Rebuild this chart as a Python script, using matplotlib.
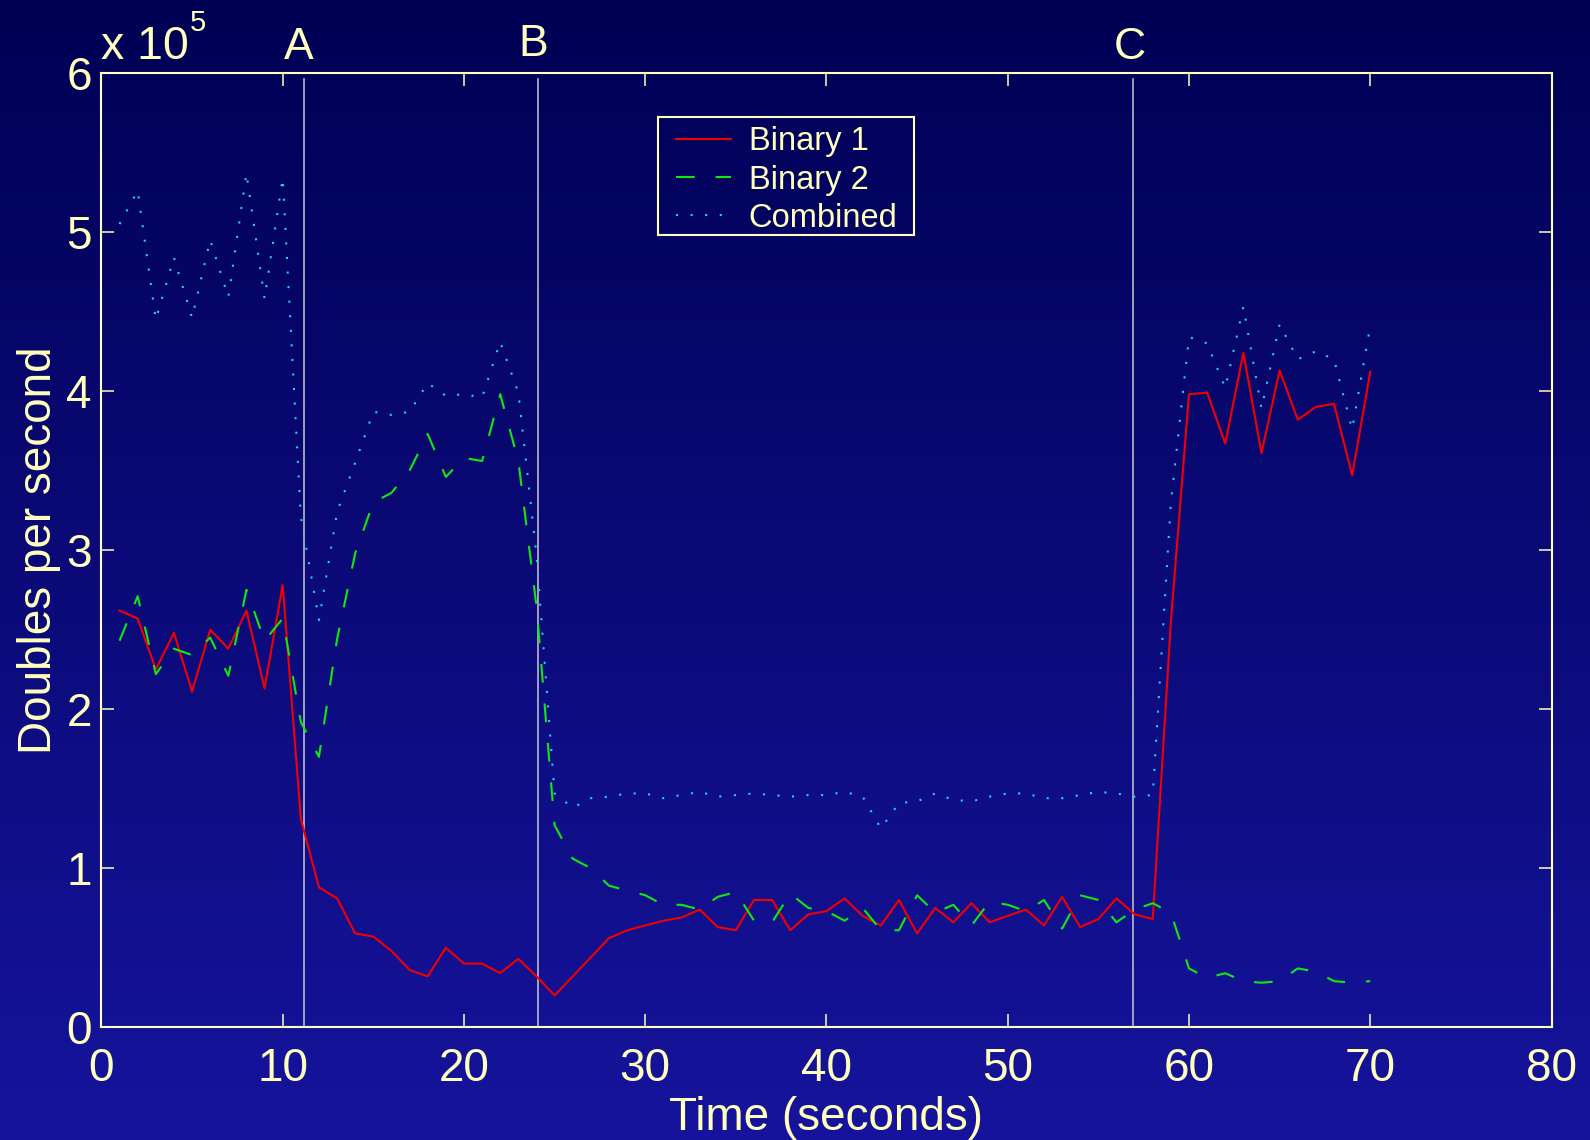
import numpy as np
import matplotlib
matplotlib.use("Agg")
import matplotlib.pyplot as plt
import matplotlib.patches as mpatches
import matplotlib.transforms as mtransforms

# Throughput samples, one per second (values in units of 1e5 doubles/s)
time_s = list(range(1, 71))

binary_1 = [
    2.62, 2.57, 2.25, 2.48, 2.11, 2.50, 2.38, 2.62, 2.13, 2.78,
    1.31, 0.88, 0.81, 0.59, 0.57, 0.48, 0.36, 0.32, 0.50, 0.40,
    0.40, 0.34, 0.43, 0.32, 0.20, 0.32, 0.44, 0.56, 0.61, 0.64,
    0.67, 0.69, 0.74, 0.63, 0.61, 0.80, 0.80, 0.61, 0.71, 0.73,
    0.81, 0.70, 0.64, 0.80, 0.59, 0.75, 0.66, 0.78, 0.66, 0.70,
    0.74, 0.64, 0.82, 0.63, 0.68, 0.81, 0.71, 0.68, 2.55, 3.98,
    3.99, 3.67, 4.24, 3.61, 4.13, 3.82, 3.90, 3.92, 3.47, 4.12,
]

binary_2 = [
    2.43, 2.71, 2.22, 2.38, 2.34, 2.45, 2.21, 2.75, 2.43, 2.57,
    1.92, 1.70, 2.44, 2.98, 3.30, 3.36, 3.50, 3.73, 3.46, 3.58,
    3.56, 3.98, 3.56, 2.65, 1.27, 1.06, 1.00, 0.89, 0.86, 0.83,
    0.77, 0.77, 0.74, 0.82, 0.85, 0.67, 0.66, 0.84, 0.75, 0.73,
    0.67, 0.75, 0.61, 0.61, 0.83, 0.72, 0.77, 0.64, 0.79, 0.77,
    0.73, 0.80, 0.62, 0.83, 0.80, 0.66, 0.74, 0.78, 0.72, 0.37,
    0.31, 0.34, 0.29, 0.28, 0.29, 0.37, 0.35, 0.29, 0.28, 0.29,
]

combined = [
    5.05, 5.26, 4.45, 4.84, 4.46, 4.95, 4.59, 5.37, 4.58, 5.34,
    3.21, 2.56, 3.24, 3.55, 3.87, 3.85, 3.87, 4.05, 3.97, 3.98,
    3.96, 4.31, 3.99, 2.97, 1.47, 1.38, 1.44, 1.45, 1.47, 1.47,
    1.44, 1.46, 1.48, 1.45, 1.46, 1.47, 1.46, 1.45, 1.46, 1.46,
    1.48, 1.45, 1.25, 1.41, 1.42, 1.47, 1.43, 1.42, 1.45, 1.47,
    1.47, 1.44, 1.44, 1.46, 1.48, 1.47, 1.45, 1.46, 3.30, 4.34,
    4.30, 4.02, 4.53, 3.89, 4.42, 4.20, 4.25, 4.20, 3.76, 4.41,
]

# Event markers
event_times = [11.15, 24.1, 56.9]
event_labels = ['A', 'B', 'C']

x_ticks = list(range(0, 81, 10))
y_ticks = list(range(0, 7))

PALE = '#FFFFBE'
FONT = 'Liberation Sans'
plt.rcParams['font.family'] = [FONT, 'DejaVu Sans']

fig = plt.figure(figsize=(15.9, 11.4), dpi=100)

# Vertical background gradient (dark navy at top -> blue at bottom)
bg = fig.add_axes([0, 0, 1, 1], zorder=0)
top_rgb = np.array([0, 0, 84]) / 255.0
bot_rgb = np.array([22, 20, 156]) / 255.0
f = np.linspace(0, 1, 512)[:, None]
grad = top_rgb + (bot_rgb - top_rgb) * f
bg.imshow(grad[:, None, :], aspect='auto', extent=[0, 1, 0, 1])
bg.axis('off')

ax = fig.add_axes([0.0638, 0.0989, 0.9120, 0.8371], zorder=1)
ax.set_facecolor('none')

ax.plot(time_s, binary_1, color='#F00000', lw=1.5, label='Binary 1')
ax.plot(time_s, binary_2, color='#10E810', lw=1.5, linestyle=(0, (9, 10)),
        label='Binary 2')
ax.plot(time_s, combined, color='#20D0F4', lw=1.5, linestyle=(0, (1, 6)),
        dash_capstyle='butt', label='Combined')

for t in event_times:
    ax.plot([t, t], [0, 5.96], color='#C8C8D0', lw=1.1, zorder=1)

ax.set_xlim(0, 80)
ax.set_ylim(0, 6)
ax.set_xticks(x_ticks)
ax.set_yticks(y_ticks)

for sp in ax.spines.values():
    sp.set_color(PALE)
    sp.set_linewidth(1.5)

ax.tick_params(direction='in', length=9.5, width=1.1, color=PALE,
               labelcolor=PALE, labelsize=33, top=True, right=True)
ax.tick_params(axis='x', pad=14)
ax.tick_params(axis='y', pad=7)

ax.set_xlabel('Time (seconds)', fontsize=33, color=PALE, labelpad=4)
ax.set_ylabel('Doubles per second', fontsize=33, color=PALE, labelpad=4)

# Scale factor above the y axis
fig.text(101 / 1590, 1 - 59 / 1140, 'x 10', fontsize=33.5, color=PALE,
         va='baseline', ha='left')
fig.text(190 / 1590, 1 - 31 / 1140, '5', fontsize=21, color=PALE,
         va='baseline', ha='left')

# Event labels above the axes
trans = mtransforms.blended_transform_factory(ax.transData, fig.transFigure)
label_base = [59, 56, 59]
label_shift = [-0.25, -0.25, -0.17]
for t, lab, base, dx in zip(event_times, event_labels, label_base, label_shift):
    ax.text(t + dx, 1 - base / 1140, lab, transform=trans, fontsize=32,
            color=PALE, ha='center', va='baseline', clip_on=False)

# Legend entries without frame; a tighter box is drawn separately
leg = ax.legend(loc='upper left', bbox_to_anchor=(0.3838, 0.9628),
                borderaxespad=0, fontsize=23.5, handlelength=1.68,
                handletextpad=0.55, labelspacing=0.22, borderpad=0.55,
                frameon=False)
for txt in leg.get_texts():
    txt.set_color(PALE)
ax.add_patch(mpatches.Rectangle((0.3838, 0.8299), 0.1763, 0.1241,
                                transform=ax.transAxes, fill=False,
                                ec=PALE, lw=1.5, clip_on=False, zorder=5))

fig.savefig('out.png', dpi=100)
